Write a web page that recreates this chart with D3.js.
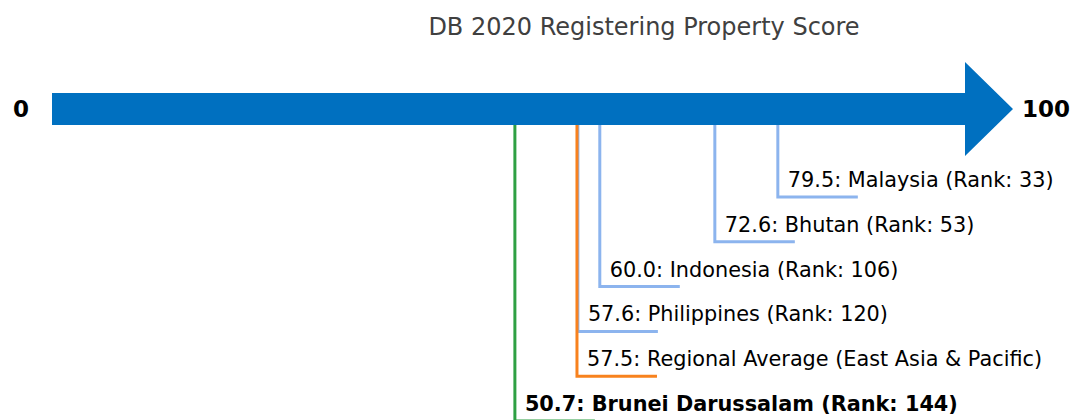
<!DOCTYPE html>
<html>
<head>
<meta charset="utf-8">
<script src="https://d3js.org/d3.v7.min.js"></script>
<style>
  body { margin: 0; background: #fff; }
  text { font-family: "DejaVu Sans", sans-serif; }
</style>
</head>
<body>
<svg id="chart" width="1072" height="420"></svg>
<script>
  // values, top label first
  var economies = ["Malaysia", "Bhutan", "Indonesia", "Philippines",
                   "Regional Average (East Asia & Pacific)", "Brunei Darussalam"];
  var scores = [79.5, 72.6, 60.0, 57.6, 57.5, 50.7];
  var ranks = [33, 53, 106, 120, null, 144];
  var kinds = ["peer", "peer", "peer", "peer", "average", "focus"];
  var axisEnds = [0, 100];

  var colors = { peer: "#8cb4ee", average: "#f8821e", focus: "#2ea043" };

  var data = economies.map(function(name, i) {
    return { name: name, score: scores[i], rank: ranks[i], kind: kinds[i] };
  });

  var svg = d3.select("#chart");

  var x = d3.scaleLinear().domain(axisEnds).range([52, 965]);
  var y = d3.scalePoint().domain(economies).range([197, 421]);

  var arrowY = 109;

  svg.append("text")
    .attr("x", 644)
    .attr("y", 35)
    .attr("text-anchor", "middle")
    .attr("fill", "#404040")
    .style("font-size", "24px")
    .text("DB 2020 Registering Property Score");

  // leader lines; later ones sit on top, so the average covers Philippines
  var leaders = svg.append("g")
    .selectAll("path")
    .data(data)
    .enter().append("path")
      .attr("fill", "none")
      .attr("stroke", function(d) { return colors[d.kind]; })
      .attr("stroke-width", 3)
      .attr("d", function(d) {
        var px = x(d.score), py = y(d.name);
        return "M" + px + "," + arrowY + "V" + py + "H" + (px + 80);
      });

  svg.append("g")
    .selectAll("text")
    .data(data)
    .enter().append("text")
      .attr("x", function(d) { return x(d.score) + 10; })
      .attr("y", function(d) { return y(d.name) - 10; })
      .attr("fill", "#000")
      .style("font-size", "20.8px")
      .style("font-weight", function(d) { return d.kind == "focus" ? "bold" : "normal"; })
      .text(function(d) {
        return d3.format(".1f")(d.score) + ": " + d.name +
          (d.rank != null ? " (Rank: " + d.rank + ")" : "");
      });

  // the big arrow
  var body = 16, head = 47, tip = 48;
  svg.append("path")
    .attr("fill", "#0070c0")
    .attr("d",
      "M" + x(0) + "," + (arrowY - body) +
      "H" + x(100) + "V" + (arrowY - head) +
      "L" + (x(100) + tip) + "," + arrowY +
      "L" + x(100) + "," + (arrowY + head) +
      "V" + (arrowY + body) + "H" + x(0) + "Z");

  svg.append("text")
    .attr("x", 21)
    .attr("y", arrowY)
    .attr("text-anchor", "middle")
    .attr("dominant-baseline", "central")
    .style("font-size", "23px")
    .style("font-weight", "bold")
    .text(axisEnds[0]);

  svg.append("text")
    .attr("x", 1022)
    .attr("y", arrowY)
    .attr("dominant-baseline", "central")
    .style("font-size", "23px")
    .style("font-weight", "bold")
    .text(axisEnds[1]);
</script>
</body>
</html>
